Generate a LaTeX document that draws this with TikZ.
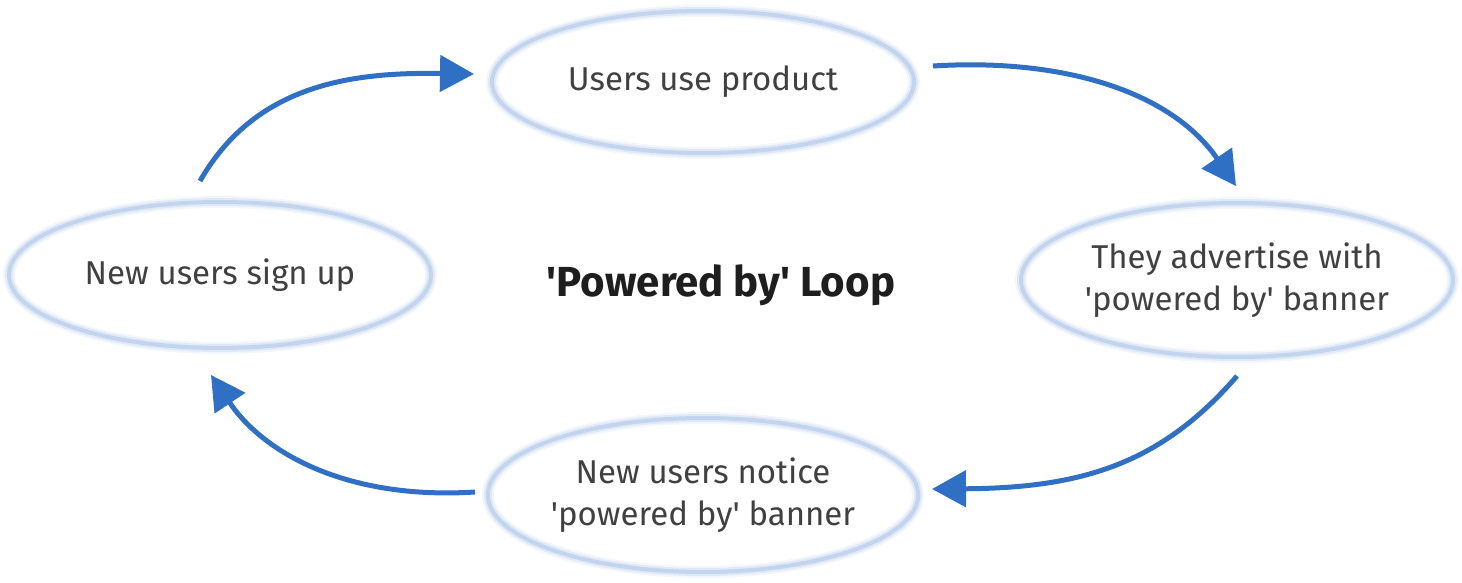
\documentclass[tikz,border=0pt]{standalone}
\usepackage{fontspec}
\setmainfont{Fira Sans}
\usetikzlibrary{shapes.geometric,arrows.meta}
\definecolor{loopblue}{HTML}{2F6FC4}
\definecolor{glow}{HTML}{C3D5EE}
\definecolor{txt}{HTML}{404040}
\definecolor{ttl}{HTML}{1E1E1E}
\newcommand{\sq}{\textquotesingle}
\tikzset{
  stage/.style={ellipse, inner sep=0pt, text=txt, align=center,
    font=\fontsize{33}{42}\selectfont,
    preaction={draw=glow, line width=12pt, draw opacity=0.2},
    preaction={draw=glow, line width=8pt, draw opacity=0.4},
    draw=glow, line width=4pt},
  flow/.style={draw=loopblue, line width=5pt,
    -{Triangle[length=34pt,width=36pt]}},
}
\begin{document}
\begin{tikzpicture}[x=1pt,y=-1pt]
\useasboundingbox (0,0) rectangle (1462,583);
\node[stage, minimum width=422pt, minimum height=142pt] (use) at (703,82) {Users use product};
\node[stage, minimum width=422pt, minimum height=146pt] (sign) at (220,275) {New users sign up};
\node[stage, minimum width=432pt, minimum height=154pt] (adv) at (1237,280) {They advertise with\\\sq powered by\sq\ banner};
\node[stage, minimum width=424pt, minimum height=154pt] (notice) at (703,495) {New users notice\\\sq powered by\sq\ banner};
\node[text=ttl, font=\fontsize{42}{46}\selectfont\bfseries] (title) at (721,285) {\sq Powered by\sq\ Loop};
\coordinate (a1s) at (200,181);
\coordinate (a1e) at (474,74);
\coordinate (a2s) at (933,66);
\coordinate (a2e) at (1236,186);
\coordinate (a3s) at (1237,376);
\coordinate (a3e) at (932,489);
\coordinate (a4s) at (475,492);
\coordinate (a4e) at (211,375);
\draw[flow] (a1s) .. controls (255,85) and (350,72) .. (a1e);
\draw[flow] (a2s) .. controls (1060,58) and (1170,90) .. (a2e);
\draw[flow] (a3s) .. controls (1160,465) and (1080,488) .. (a3e);
\draw[flow] (a4s) .. controls (350,500) and (265,455) .. (a4e);
\end{tikzpicture}
\end{document}
